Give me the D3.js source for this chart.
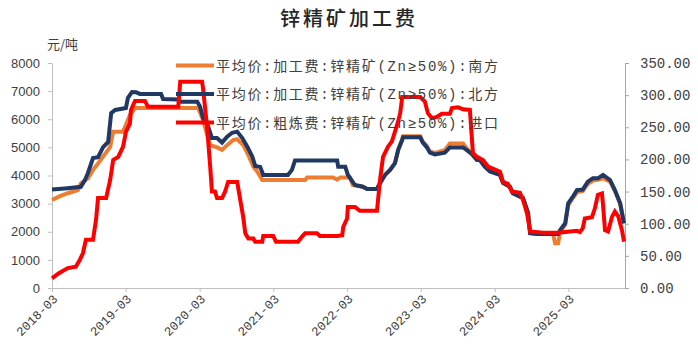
<!DOCTYPE html>
<html>
<head>
<meta charset="utf-8">
<script src="https://cdn.jsdelivr.net/npm/d3@7"></script>
<style>
  body { margin: 0; background: #fff; }
</style>
</head>
<body>
<svg id="chart" width="698" height="354"></svg>
<script>
// data

const seriesNames = [
    '平均价:加工费:锌精矿(Zn≥50%):南方',
    '平均价:加工费:锌精矿(Zn≥50%):北方',
    '平均价:粗炼费:锌精矿(Zn≥50%):进口'
];

// 南方 加工费, 元/吨 (left axis)
const south = [
    ["2018-03-01",3130],["2018-04-04",3250],["2018-05-18",3370],["2018-07-07",3480],["2018-07-22",3720],
    ["2018-08-26",3900],["2018-09-20",4200],["2018-10-15",4430],["2018-11-09",4670],["2018-12-14",5020],
    ["2018-12-29",5560],["2019-02-16",5560],["2019-03-02",5800],["2019-03-22",6150],["2019-04-16",6400],
    ["2020-02-23",6400],["2020-03-18",5970],["2020-04-22",5080],["2020-05-26",5000],["2020-06-20",4910],
    ["2020-07-15",5080],["2020-08-14",5260],["2020-09-03",5290],["2020-10-03",5080],["2020-10-28",4730],
    ["2020-11-22",4310],["2020-12-11",4140],["2021-01-05",3840],["2021-08-05",3840],["2021-08-15",3930],
    ["2021-12-22",3930],["2022-01-11",3850],["2022-01-26",3930],["2022-03-15",3930],["2022-03-29",3660],
    ["2022-05-18",3600],["2022-06-08",3520],["2022-07-27",3520],["2022-08-11",3730],["2022-09-05",4020],
    ["2022-09-30",4200],["2022-10-24",4440],["2022-11-09",4910],["2022-11-29",5300],["2022-12-03",5400],
    ["2023-02-26",5400],["2023-03-11",5200],["2023-03-31",5050],["2023-04-15",4850],["2023-05-10",4800],
    ["2023-06-28",4900],["2023-07-23",5140],["2023-09-26",5140],["2023-10-15",4950],["2023-11-09",4780],
    ["2023-12-04",4550],["2023-12-18",4550],["2024-01-13",4310],["2024-02-07",4140],["2024-03-27",4020],
    ["2024-04-11",3740],["2024-05-15",3600],["2024-05-30",3370],["2024-07-04",3250],["2024-07-19",3200],
    ["2024-08-13",2670],["2024-08-23",1950],["2024-09-27",1920],["2024-12-15",1920],["2024-12-25",1590],
    ["2025-01-09",1590],["2025-01-19",2000],["2025-02-13",2250],["2025-02-28",2950],["2025-03-23",3200],
    ["2025-04-12",3400],["2025-05-11",3450],["2025-06-05",3700],["2025-06-30",3820],["2025-07-25",3850],
    ["2025-08-19",3900],["2025-09-23",3780],["2025-10-17",3450],["2025-11-12",3000],["2025-12-01",2300]
];

// 北方 加工费, 元/吨 (left axis)
const north = [
    ["2018-03-01",3500],["2018-05-18",3550],["2018-07-22",3600],["2018-08-11",3840],["2018-08-26",4090],
    ["2018-09-20",4620],["2018-10-15",4650],["2018-11-09",5010],["2018-12-04",5190],["2018-12-19",6220],
    ["2019-01-08",6330],["2019-03-02",6400],["2019-03-12",6760],["2019-04-01",6970],["2019-04-21",6960],
    ["2019-05-10",6900],["2019-08-23",6900],["2019-09-02",6720],["2019-11-16",6700],["2019-11-26",6620],
    ["2020-02-18",6620],["2020-03-03",6450],["2020-03-18",6040],["2020-04-12",5740],["2020-05-01",5330],
    ["2020-05-26",5330],["2020-06-20",5170],["2020-07-15",5380],["2020-08-09",5520],["2020-09-03",5560],
    ["2020-09-28",5330],["2020-10-23",5020],["2020-11-17",4670],["2020-12-01",4340],["2020-12-26",4300],
    ["2021-01-10",4020],["2021-05-12",4020],["2021-06-01",4200],["2021-06-16",4530],["2022-01-11",4530],
    ["2022-01-16",4310],["2022-02-20",4310],["2022-03-05",4020],["2022-04-09",3660],["2022-05-18",3600],
    ["2022-06-08",3520],["2022-07-27",3520],["2022-08-11",3730],["2022-09-05",4020],["2022-09-30",4200],
    ["2022-10-24",4440],["2022-11-09",4910],["2022-11-29",5260],["2022-12-03",5360],["2023-02-26",5360],
    ["2023-03-11",5170],["2023-03-31",5000],["2023-04-15",4810],["2023-05-10",4750],["2023-06-28",4810],
    ["2023-07-23",5000],["2023-09-26",5000],["2023-10-15",4900],["2023-11-09",4760],["2023-12-04",4550],
    ["2023-12-18",4550],["2024-01-13",4310],["2024-02-07",4140],["2024-03-27",4020],["2024-04-11",3740],
    ["2024-05-15",3600],["2024-05-30",3370],["2024-07-04",3250],["2024-07-19",3200],["2024-08-13",2670],
    ["2024-08-23",1950],["2024-09-27",1920],["2025-01-09",1920],["2025-01-19",2060],["2025-02-13",2300],
    ["2025-02-28",3010],["2025-03-23",3250],["2025-04-12",3480],["2025-05-11",3500],["2025-06-05",3780],
    ["2025-06-30",3900],["2025-07-25",3900],["2025-08-19",4020],["2025-09-23",3840],["2025-10-17",3480],
    ["2025-11-12",3010],["2025-12-01",2300]
];

// 进口 粗炼费, 美元/干吨 (right axis)
const imported = [
    ["2018-03-01",15],["2018-04-04",23],["2018-05-18",31],["2018-06-27",33],["2018-07-17",44],
    ["2018-08-01",54],["2018-08-16",75],["2018-09-20",75],["2018-10-05",106],["2018-10-15",140],
    ["2018-11-24",140],["2018-12-14",168],["2018-12-29",199],["2019-01-23",204],["2019-02-16",220],
    ["2019-03-02",243],["2019-03-22",256],["2019-03-27",277],["2019-04-16",291],["2019-06-04",291],
    ["2019-06-19",282],["2019-11-16",282],["2019-11-26",321],["2020-03-13",321],["2020-03-18",310],
    ["2020-04-07",250],["2020-04-22",190],["2020-05-01",150],["2020-05-16",150],["2020-05-26",140],
    ["2020-06-20",140],["2020-07-05",150],["2020-07-20",165],["2020-09-03",165],["2020-09-18",137],
    ["2020-10-03",110],["2020-10-13",85],["2020-10-28",77],["2020-11-22",77],["2020-12-01",72],
    ["2021-01-05",72],["2021-01-10",81],["2021-02-28",81],["2021-03-14",72],["2021-07-01",72],
    ["2021-07-21",80],["2021-08-05",85],["2021-10-03",85],["2021-10-18",81],["2022-01-11",81],
    ["2022-02-05",82],["2022-02-10",95],["2022-03-01",108],["2022-03-05",126],["2022-04-09",126],
    ["2022-05-03",120],["2022-07-27",120],["2022-08-11",168],["2022-08-26",204],["2022-09-20",220],
    ["2022-10-09",228],["2022-11-04",254],["2022-11-19",272],["2022-11-29",297],["2023-02-26",297],
    ["2023-03-21",290],["2023-04-05",272],["2023-04-25",264],["2023-05-19",266],["2023-06-13",271],
    ["2023-07-23",271],["2023-08-02",280],["2023-09-01",281],["2023-09-26",278],["2023-10-30",277],
    ["2023-11-14",210],["2023-12-04",204],["2024-01-03",199],["2024-01-28",189],["2024-03-27",181],
    ["2024-04-11",165],["2024-05-05",162],["2024-05-25",150],["2024-07-04",148],["2024-07-19",137],
    ["2024-08-08",116],["2024-08-23",88],["2024-10-26",86],["2025-01-09",86],["2025-03-08",88],
    ["2025-04-12",89],["2025-04-27",87],["2025-05-11",93],["2025-05-21",108],["2025-06-25",110],
    ["2025-07-10",124],["2025-07-25",145],["2025-08-14",147],["2025-08-19",130],["2025-08-29",90],
    ["2025-09-13",88],["2025-10-03",111],["2025-10-17",119],["2025-11-02",112],["2025-11-21",90],
    ["2025-12-01",72]
];

const leftTicks = [0, 1000, 2000, 3000, 4000, 5000, 6000, 7000, 8000];
const rightTicks = [0, 50, 100, 150, 200, 250, 300, 350];
const xTickLabels = ['2018-03', '2019-03', '2020-03', '2021-03', '2022-03', '2023-03', '2024-03', '2025-03'];
const colors = ['#ED7D31', '#1F3864', '#FF0000'];

const svg = d3.select('#chart');
const margin = { top: 63, right: 73, bottom: 66, left: 52 };
const width = +svg.attr('width');
const height = +svg.attr('height');
const parse = d3.timeParse('%Y-%m-%d');
const axisColor = '#bfbfbf';
const textColor = '#404040';

const xScale = d3.scaleTime()
    .domain([parse('2018-03-01'), parse('2025-12-06')])
    .range([margin.left, width - margin.right]);

const yLeft = d3.scaleLinear()
    .domain([0, 8000])
    .range([height - margin.bottom, margin.top]);

const yRight = d3.scaleLinear()
    .domain([0, 350])
    .range([height - margin.bottom, margin.top]);

// title and unit
svg.append('text')
    .attr('x', width / 2)
    .attr('y', 26)
    .attr('text-anchor', 'middle')
    .attr('font-family', '"Noto Sans CJK SC", sans-serif')
    .attr('font-size', 20)
    .attr('font-weight', 500)
    .attr('letter-spacing', 3)
    .attr('fill', '#262626')
    .text('锌精矿加工费');

svg.append('text')
    .attr('x', 47)
    .attr('y', 49)
    .attr('font-family', '"Noto Sans CJK SC", sans-serif')
    .attr('font-size', 13)
    .attr('fill', textColor)
    .text('元/吨');

// axes
const xAxis = d3.axisBottom(xScale)
    .tickValues(xTickLabels.map(d => parse(d + '-01')))
    .tickFormat(d3.timeFormat('%Y-%m'))
    .tickSize(4)
    .tickSizeOuter(0);

const gx = svg.append('g')
    .attr('class', 'x-axis')
    .attr('transform', `translate(0, ${height - margin.bottom})`)
    .call(xAxis);

gx.selectAll('text')
    .attr('x', -4)
    .attr('y', 8)
    .attr('dy', '0.35em')
    .attr('transform', 'rotate(-45)')
    .style('text-anchor', 'end')
    .attr('font-family', '"Liberation Mono", monospace')
    .attr('font-size', 12.5)
    .attr('fill', textColor);

const gl = svg.append('g')
    .attr('class', 'y-axis-left')
    .attr('transform', `translate(${margin.left}, 0)`)
    .call(d3.axisLeft(yLeft).tickValues(leftTicks).tickFormat(d3.format('d')).tickSize(4).tickPadding(8).tickSizeOuter(0));

gl.selectAll('text')
    .attr('font-family', '"Liberation Sans", Arial, sans-serif')
    .attr('font-size', 13)
    .attr('fill', textColor);

const gr = svg.append('g')
    .attr('class', 'y-axis-right')
    .attr('transform', `translate(${width - margin.right}, 0)`)
    .call(d3.axisRight(yRight).tickValues(rightTicks).tickFormat(d3.format('.2f')).tickSize(4).tickPadding(11).tickSizeOuter(0));

gr.selectAll('text')
    .attr('font-family', '"Liberation Mono", monospace')
    .attr('font-size', 14)
    .attr('fill', textColor);

svg.selectAll('.domain, .tick line')
    .attr('stroke', axisColor);
gr.selectAll('.domain, .tick line')
    .attr('stroke', '#a6a6a6');

// lines
const lineLeft = d3.line()
    .x(d => xScale(parse(d[0])))
    .y(d => yLeft(d[1]));

const lineRight = d3.line()
    .x(d => xScale(parse(d[0])))
    .y(d => yRight(d[1]));

svg.append('path')
    .datum(south)
    .attr('d', lineLeft)
    .attr('fill', 'none')
    .attr('stroke', colors[0])
    .attr('stroke-width', 4);

svg.append('path')
    .datum(north)
    .attr('d', lineLeft)
    .attr('fill', 'none')
    .attr('stroke', colors[1])
    .attr('stroke-width', 4);

svg.append('path')
    .datum(imported)
    .attr('d', lineRight)
    .attr('fill', 'none')
    .attr('stroke', colors[2])
    .attr('stroke-width', 4);

// legend (no background, sits over the lines)
const legend = svg.append('g')
    .attr('transform', 'translate(176, 65.5)');

const rows = legend.selectAll('g')
    .data(seriesNames)
    .enter().append('g')
    .attr('transform', (d, i) => `translate(0, ${i * 28.5})`);

rows.append('line')
    .attr('x1', 0)
    .attr('x2', 38)
    .attr('stroke', (d, i) => colors[i])
    .attr('stroke-width', 4);

rows.append('text')
    .attr('x', 40)
    .attr('dy', '0.36em')
    .attr('textLength', 282)
    .attr('lengthAdjust', 'spacing')
    .attr('font-family', '"Liberation Mono", "Noto Sans CJK SC", monospace')
    .attr('font-size', 14)
    .attr('fill', textColor)
    .text(d => d);
</script>
</body>
</html>
